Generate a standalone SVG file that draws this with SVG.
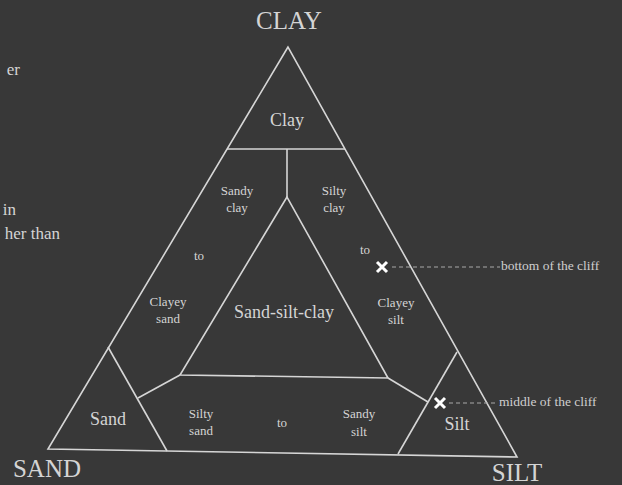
<svg xmlns="http://www.w3.org/2000/svg" width="622" height="485" viewBox="0 0 622 485">
<style>
.bg{fill:#383838}
.ln{fill:none;stroke:#d6d6d6;stroke-width:1.6;stroke-linejoin:miter}
.t{font-family:"Liberation Serif","Times New Roman",serif;fill:#d4d4d4;text-anchor:middle}
.big{font-size:25px}
.md{font-size:18px}
.sm{font-size:13px}
.side{font-family:"Liberation Serif","Times New Roman",serif;fill:#d4d4d4;font-size:17px;text-anchor:end}
.note{font-family:"Liberation Serif","Times New Roman",serif;fill:#cfcfcf;font-size:13.5px}
.dash{stroke:#a8a8a8;stroke-width:1;stroke-dasharray:4 3;fill:none}
.x{stroke:#ffffff;stroke-width:3;stroke-linecap:butt}
</style>
<rect class="bg" x="0" y="0" width="622" height="485"/>
<g id="side-text">
<text class="side" x="20" y="75">er</text>
<text class="side" x="16" y="215">in</text>
<text class="side" x="60" y="239">her than</text>
</g>
<g id="frame">
<polygon class="ln" points="288,47 48,449 517,457"/>
<polyline class="ln" points="227,149 345,149"/>
<polyline class="ln" points="287,149 287,197"/>
<polygon class="ln" points="287,197 180,375 388,378"/>
<polyline class="ln" points="108,347 167,451"/>
<polyline class="ln" points="180,375 138,398"/>
<polyline class="ln" points="457,352 398,454"/>
<polyline class="ln" points="388,378 428,402"/>
</g>
<g id="vertex-clay"><text class="t big" x="289" y="29">CLAY</text></g>
<g id="vertex-sand"><text class="t big" x="47" y="477">SAND</text></g>
<g id="vertex-silt"><text class="t big" x="517" y="481">SILT</text></g>
<g id="clay"><text class="t md" x="287" y="126">Clay</text></g>
<g id="sandy-clay"><text class="t sm" x="237" y="195">Sandy</text><text class="t sm" x="237" y="212">clay</text></g>
<g id="silty-clay"><text class="t sm" x="334" y="195">Silty</text><text class="t sm" x="334" y="212">clay</text></g>
<g id="to-left"><text class="t sm" x="199" y="260">to</text></g>
<g id="to-right"><text class="t sm" x="365" y="254">to</text></g>
<g id="clayey-sand"><text class="t sm" x="168" y="306">Clayey</text><text class="t sm" x="168" y="323">sand</text></g>
<g id="sand-silt-clay"><text class="t md" x="284" y="318">Sand-silt-clay</text></g>
<g id="clayey-silt"><text class="t sm" x="396" y="307">Clayey</text><text class="t sm" x="396" y="324">silt</text></g>
<g id="sand"><text class="t md" x="108" y="425">Sand</text></g>
<g id="silty-sand"><text class="t sm" x="201" y="418">Silty</text><text class="t sm" x="201" y="435">sand</text></g>
<g id="to-bottom"><text class="t sm" x="282" y="427">to</text></g>
<g id="sandy-silt"><text class="t sm" x="359" y="418">Sandy</text><text class="t sm" x="359" y="436">silt</text></g>
<g id="silt"><text class="t md" x="457" y="430">Silt</text></g>
<g id="marker-bottom">
<path class="x" d="M377,262 L387,272 M387,262 L377,272"/>
</g>
<g id="marker-middle">
<path class="x" d="M435,398 L445,408 M445,398 L435,408"/>
</g>
<g id="connectors">
<line class="dash" x1="392" y1="267" x2="500" y2="267"/>
<line class="dash" x1="449" y1="403" x2="496" y2="403"/>
</g>
<g id="label-bottom"><text class="note" x="501" y="270">bottom of the cliff</text></g>
<g id="label-middle"><text class="note" x="499" y="406">middle of the cliff</text></g>
</svg>
